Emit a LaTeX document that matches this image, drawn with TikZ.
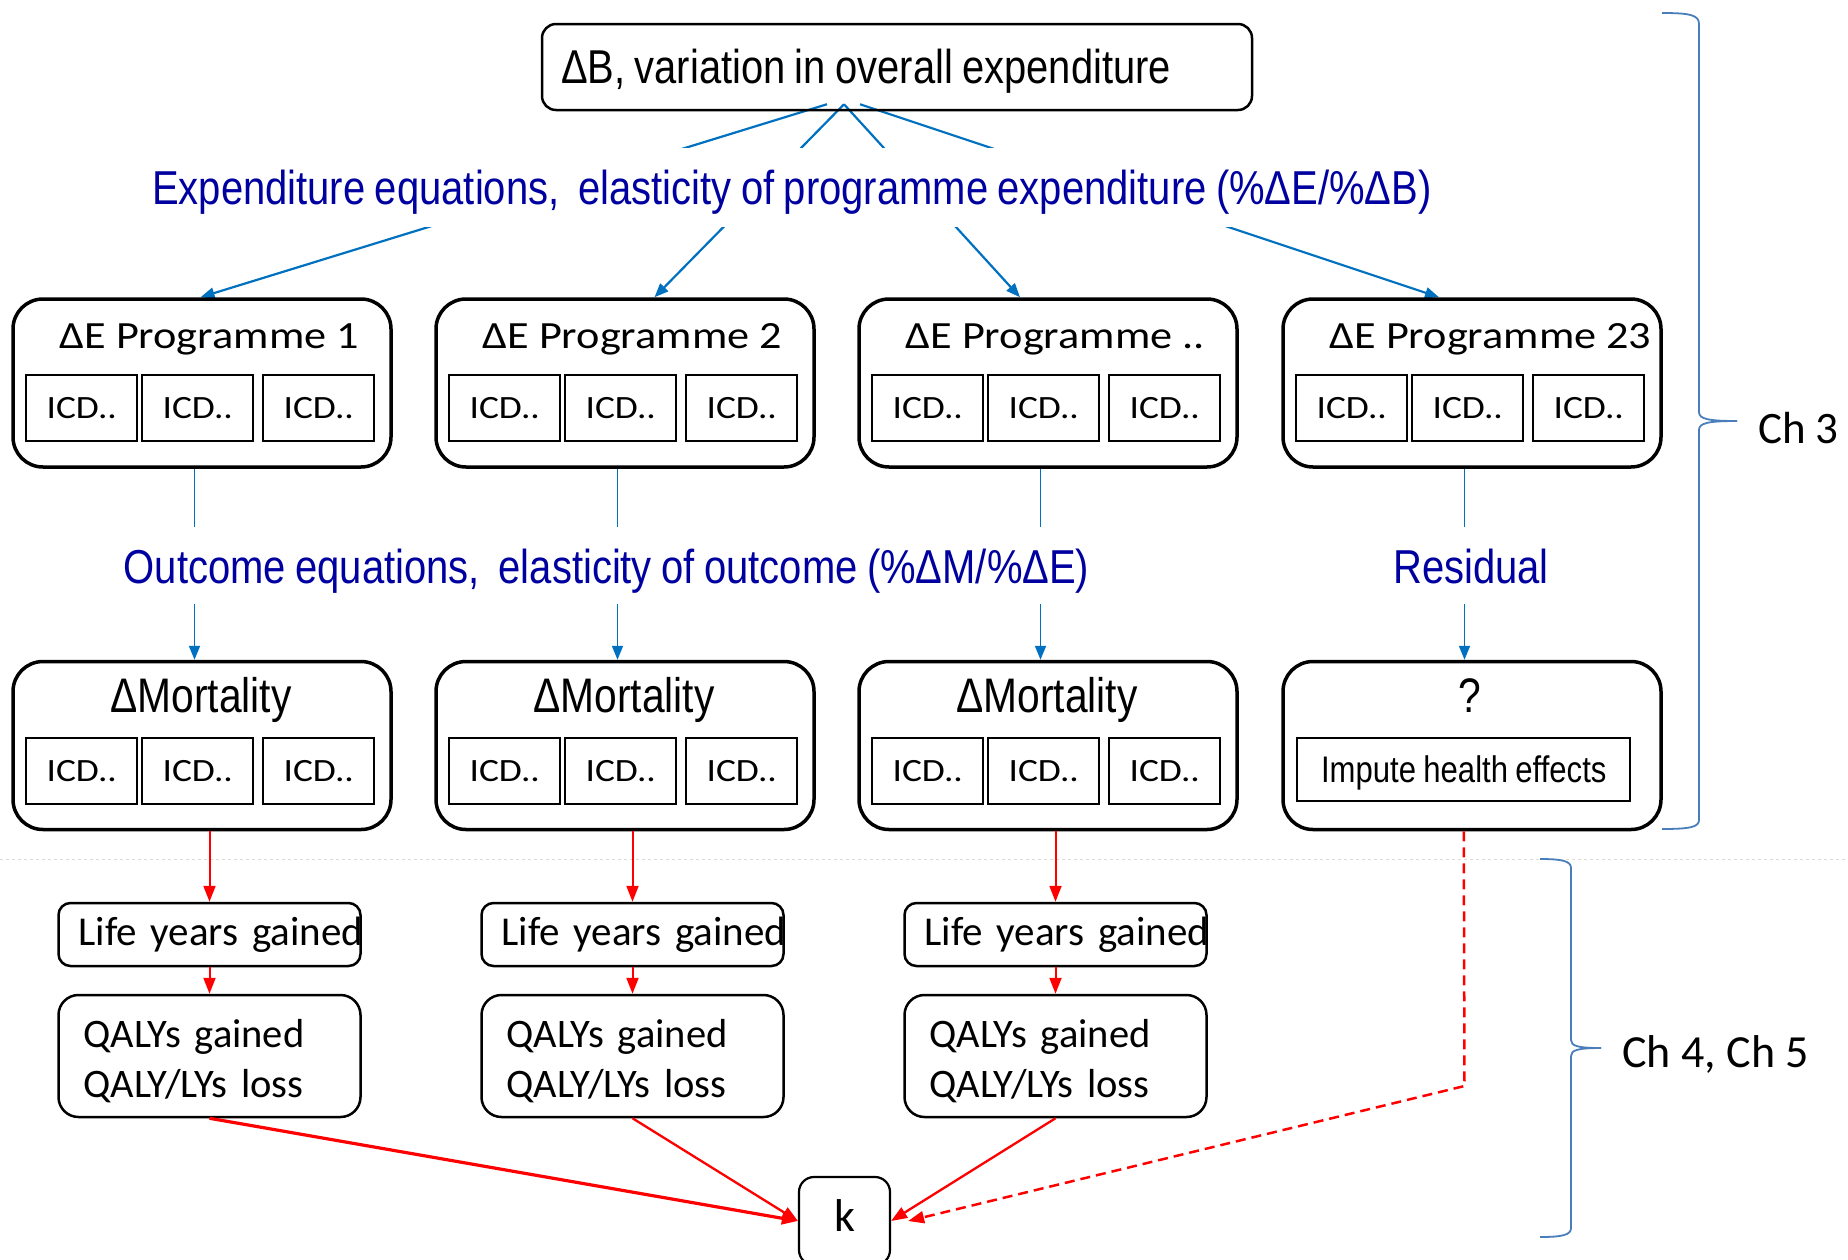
\documentclass[tikz,border=0pt]{standalone}
\usepackage{fontspec}
\newfontfamily\narf[FakeStretch=0.84,WordSpace=0.85]{Liberation Sans}
\newfontfamily\calf[FakeStretch=1.15]{Carlito}
\newfontfamily\calrf{Carlito}
\usetikzlibrary{arrows.meta,calc,backgrounds}
\definecolor{lblue}{RGB}{0,112,192}
\definecolor{labnavy}{RGB}{0,0,160}
\definecolor{bracec}{RGB}{74,126,187}
\definecolor{redc}{RGB}{255,0,0}
\definecolor{dotc}{RGB}{220,220,210}
\begin{document}
\begin{tikzpicture}[x=1pt,y=-1pt,
  bigbox/.style={draw,line width=3.5pt,rounded corners=30pt,minimum width=378pt,minimum height=168pt,inner sep=0pt},
  icdbox/.style={draw,line width=1.8pt,minimum width=111pt,minimum height=66pt,inner sep=0pt,font={\calf\fontsize{32.5}{38}\selectfont}},
  ptitle/.style={anchor=base west,inner sep=0pt,font={\calf\fontsize{38.5}{44}\selectfont}},
  mtitle/.style={anchor=base,inner sep=0pt,font={\narf\fontsize{48.5}{56}\selectfont}},
  lbl/.style={fill=white,text=labnavy,inner xsep=4pt,inner ysep=0pt,anchor=base,font={\narf\fontsize{47.6}{54}\selectfont}},
  lifebox/.style={draw,line width=2.5pt,rounded corners=12pt,minimum width=302pt,minimum height=63pt,text width=262pt,inner xsep=20pt,inner ysep=0pt,align=left,text height=31pt,text depth=10pt,font={\calrf\fontsize{41}{48}\selectfont}},
  qalybox/.style={draw,line width=2.5pt,rounded corners=20pt,minimum width=302pt,minimum height=122pt,text width=252pt,inner xsep=25pt,inner ysep=0pt,align=left,text height=30pt,text depth=48pt,font={\calrf\fontsize{40.5}{50}\selectfont}},
  bluear/.style={draw=lblue,line width=1.8pt,-{Triangle[length=14pt,width=11pt]}},
  redar/.style={draw=redc,line width=2pt,-{Triangle[length=16pt,width=12pt]}},
  bracepath/.style={draw=bracec,line width=1.8pt},
  chtext/.style={anchor=base west,inner sep=0pt,font={\calrf\fontsize{46}{54}\selectfont}},
]
\useasboundingbox (0,0) rectangle (1848,1259);
% faint separator
\draw[dotc,line width=1pt,dash pattern=on 3pt off 3pt] (0,859) -- (1848,859);

% top box
\node[draw,line width=2.5pt,rounded corners=14pt,minimum height=86pt,inner xsep=19pt,inner ysep=0pt,text height=40pt,text depth=8pt,font={\narf\fontsize{47.5}{54}\selectfont}] (top) at (897,67) {\makebox[672pt][l]{ΔB, variation in overall expenditure}};

% programme and mortality boxes
\foreach \i/\x/\t in {1/202/1, 2/625/2, 3/1048/.., 4/1472/23}{
  \node[bigbox] (p\i) at (\x,383) {};
  \node[ptitle] (p\i-t) at ($(p\i.north west)+(48,51)$) {ΔE Programme \t};
  \node[icdbox] (p\i-a) at ($(p\i.north west)+(70.5,111)$) {ICD..};
  \node[icdbox] (p\i-b) at ($(p\i.north west)+(186.5,111)$) {ICD..};
  \node[icdbox] (p\i-c) at ($(p\i.north west)+(307.5,111)$) {ICD..};
  \node[bigbox] (m\i) at (\x,745.5) {};
}
\foreach \i in {1,2,3}{
  \node[mtitle] (m\i-t) at ($(m\i.north)+(-1,53)$) {ΔMortality};
  \node[icdbox] (m\i-a) at ($(m\i.north west)+(70.5,111)$) {ICD..};
  \node[icdbox] (m\i-b) at ($(m\i.north west)+(186.5,111)$) {ICD..};
  \node[icdbox] (m\i-c) at ($(m\i.north west)+(307.5,111)$) {ICD..};
}
\node[mtitle] (m4-t) at ($(m4.north)+(-2,53)$) {?};
\node[draw,line width=1.8pt,minimum width=333pt,minimum height=63pt,inner sep=0pt,text height=30pt,text depth=4pt,font={\narf\fontsize{37}{44}\selectfont}] (imp) at ($(m4.north west)+(182.5,110)$) {Impute health effects};

% labels
\node[lbl,text height=56pt,text depth=23pt] (expl) at (792,204) {Expenditure equations,~ elasticity of programme expenditure (\%ΔE/\%ΔB)};
\node[lbl,text height=56pt,text depth=21pt] (outl) at (606.5,583) {Outcome equations,~ elasticity of outcome (\%ΔM/\%ΔE)};
\node[lbl,text height=56pt,text depth=21pt] (resl) at (1471,583) {Residual};

% life years and QALY boxes
\foreach \i/\x in {1/209.5, 2/632.5, 3/1055.5}{
  \node[lifebox] (l\i) at (\x,934.5) {\mbox{Life years gained}};
  \node[qalybox] (q\i) at (\x,1056) {QALYs gained\\QALY/LYs loss};
}
\node[draw,line width=2.2pt,rounded corners=15pt,minimum width=91pt,minimum height=88pt,inner sep=0pt,text height=32pt,text depth=12pt,font={\calrf\fontsize{46}{54}\selectfont}] (k) at (844.5,1221) {k};

% blue connectors (under the labels)
\begin{scope}[on background layer]
\draw[bluear,line width=2.2pt] ($(top.south)+(-70,-7)$) -- ($(p1.north)+(-1.5,0)$);
\draw[bluear,line width=2.2pt] ($(top.south)+(-53,-7)$) -- ($(p2.north)+(29.5,0)$);
\draw[bluear,line width=2.2pt] ($(top.south)+(-53,-7)$) -- ($(p3.north)+(-28,0)$);
\draw[bluear,line width=2.2pt] ($(top.south)+(-37,-7)$) -- ($(p4.north)+(-33,0)$);
\foreach \i in {1,...,4}{
  \draw[bluear] ($(p\i.south)+(-7.5,0)$) -- ($(m\i.north)+(-7.5,0)$);
}
\end{scope}

% red connectors
\foreach \i in {1,2,3}{
  \draw[redar] (m\i.south -| l\i.north) -- (l\i.north);
  \draw[redar] (l\i.south) -- (q\i.north);
}
\draw[redar,line width=3.2pt] (q1.south) -- (k.west);
\draw[redar,line width=2.3pt] (q2.south) -- (k.west);
\draw[redar,line width=2.3pt] (q3.south) -- (k.east);
\coordinate (dc) at (1464.5,1086);
\coordinate (kin) at ($(k.east)+(17,0)$);
\draw[redar,line width=2.5pt,dash pattern=on 10pt off 6pt] (m4.south -| imp.south) -- (dc) -- (kin);

% braces
\draw[bracepath] (1662,13) .. controls (1690,13) and (1699,15) .. (1699,24) -- (1699,412) .. controls (1699,419) and (1708,421) .. (1737,421);
\draw[bracepath] (1737,421) .. controls (1708,421) and (1699,423) .. (1699,430) -- (1699,820) .. controls (1699,827) and (1690,829) .. (1662,829);
\draw[bracepath] (1540,859) .. controls (1562,859) and (1571,861) .. (1571,868) -- (1571,1040) .. controls (1571,1046) and (1578,1048) .. (1601,1048);
\draw[bracepath] (1601,1048) .. controls (1578,1048) and (1571,1050) .. (1571,1056) -- (1571,1228) .. controls (1571,1235) and (1562,1237) .. (1540,1237);
\node[chtext,font={\calrf\fontsize{45}{54}\selectfont}] (ch3) at (1758,443) {Ch 3};
\node[chtext] (ch45) at (1622,1067) {Ch 4, Ch 5};
\end{tikzpicture}
\end{document}
